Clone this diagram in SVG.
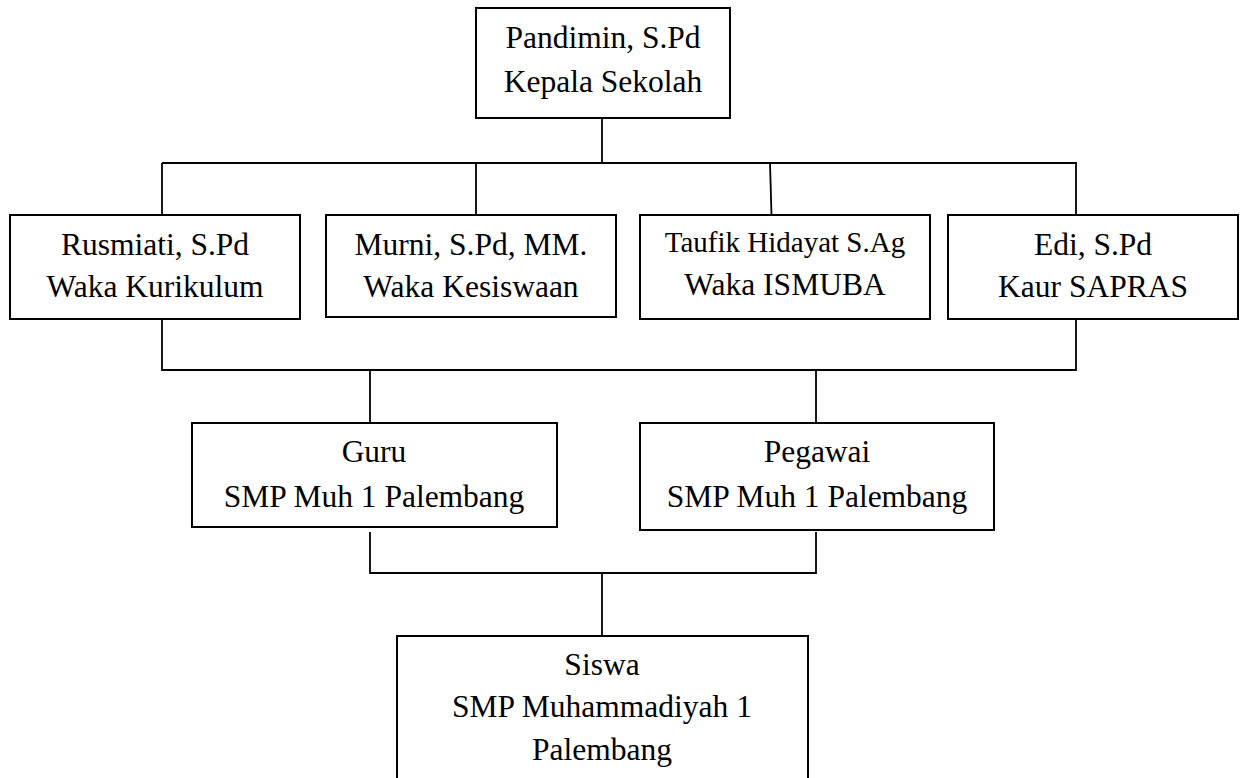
<svg xmlns="http://www.w3.org/2000/svg" width="1242" height="778" viewBox="0 0 1242 778">
<style>
.box{fill:#fff;stroke:#000;stroke-width:2}
.ln{fill:none;stroke:#000;stroke-width:1.8}
text{font-family:"Liberation Serif","Times New Roman",serif;font-size:31.5px;fill:#000;text-anchor:middle}
.sm{font-size:29px}
</style>
<rect width="1242" height="778" fill="#fff"/>
<g id="connectors">
<path class="ln" d="M602 118V163M162 163H1077M162 163V215M476 163V215M770 163L771.5 215M1076 163V215"/>
<path class="ln" d="M162 319V370H1076V319M370 370V423M816 370V423"/>
<path class="ln" d="M370 532V573H816V532M602 573V636"/>
</g>
<g id="kepala"><rect class="box" x="476" y="8" width="254" height="110"/><text x="603" y="48">Pandimin, S.Pd</text><text x="603" y="92">Kepala Sekolah</text></g>
<g id="kurikulum"><rect class="box" x="10" y="215" width="290" height="104"/><text x="155" y="255">Rusmiati, S.Pd</text><text x="155" y="297">Waka Kurikulum</text></g>
<g id="kesiswaan"><rect class="box" x="326" y="215" width="290" height="102"/><text x="471" y="255">Murni, S.Pd, MM.</text><text x="471" y="297">Waka Kesiswaan</text></g>
<g id="ismuba"><rect class="box" x="640" y="215" width="290" height="104"/><text class="sm" x="785" y="252">Taufik Hidayat S.Ag</text><text x="785" y="295">Waka ISMUBA</text></g>
<g id="sapras"><rect class="box" x="948" y="215" width="290" height="104"/><text x="1093" y="255">Edi, S.Pd</text><text x="1093" y="297">Kaur SAPRAS</text></g>
<g id="guru"><rect class="box" x="192" y="423" width="365" height="104"/><text x="374" y="462">Guru</text><text x="374" y="507">SMP Muh 1 Palembang</text></g>
<g id="pegawai"><rect class="box" x="640" y="423" width="354" height="107"/><text x="817" y="462">Pegawai</text><text x="817" y="507">SMP Muh 1 Palembang</text></g>
<g id="siswa"><rect class="box" x="397" y="636" width="411" height="160"/><text x="602" y="675">Siswa</text><text x="602" y="717">SMP Muhammadiyah 1</text><text x="602" y="760">Palembang</text></g>
</svg>
